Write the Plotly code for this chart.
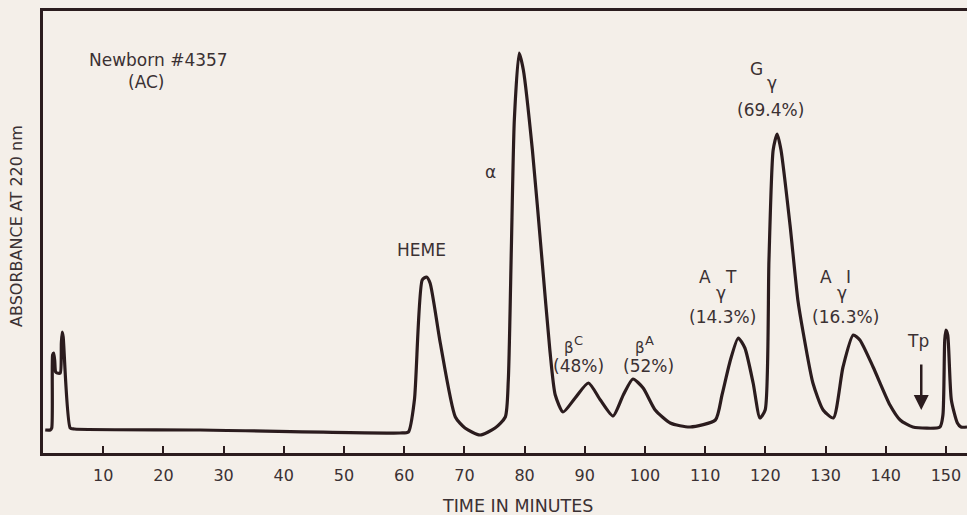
import plotly.graph_objects as go

# Time (minutes) and relative absorbance (arbitrary units)
time_min = [0.37, 1.20, 1.45, 1.60, 1.78, 1.95, 2.10, 2.36, 2.86, 3.05, 3.19, 3.35, 4.52, 5.2,
            26.1, 59.3, 60.7, 61.7, 63.0, 63.7, 64.3, 66.0, 68.5, 70.1, 72.6, 75.1, 76.8,
            77.3, 77.8, 78.3, 79.1, 79.8, 81.3, 82.9, 84.2, 85.1, 86.4, 88.4, 90.6, 92.6,
            94.7, 96.4, 98.0, 99.7, 101.7, 104.2, 107.5, 111.7, 112.8, 114.2, 115.5, 116.6,
            117.97, 119.1, 119.97, 120.6, 121.3, 121.96, 122.6, 124.1, 125.4, 126.3, 127.9,
            129.6, 131.3, 132.9, 134.6, 135.7, 137.9, 140.7, 142.4, 144.5, 149.0, 149.5,
            149.8, 150.0, 150.3, 150.9, 151.9, 152.5, 153.5]
absorbance = [23, 23, 25, 98, 100, 92, 81, 80, 80, 110, 121, 116, 25, 24,
              23, 20, 21, 53, 173, 176, 170, 110, 36, 25, 18, 25, 36,
              73, 203, 333, 400, 383, 303, 193, 103, 58, 41, 55, 70, 53,
              37, 58, 74, 65, 43, 30, 26, 33, 58, 93, 115, 105,
              70, 35, 43, 193, 303, 319, 303, 228, 153, 120, 70,
              43, 35, 86, 118, 113, 86, 48, 33, 26, 26, 38,
              113, 123, 118, 53, 30, 26, 26]

x_ticks = [10, 20, 30, 40, 50, 60, 70, 80, 90, 100, 110, 120, 130, 140, 150]

ink = "#2b1c1e"
txt = "#3b3133"
font_family = "DejaVu Sans"

fig = go.Figure()
fig.add_trace(go.Scatter(
    x=time_min, y=absorbance, mode="lines",
    line=dict(color=ink, width=3.2, shape="spline", smoothing=0.6),
    hoverinfo="skip", showlegend=False,
))

labels = [
    # (text, x, y, xanchor, size)
    ("Newborn #4357", 7.35, 393, "left", 17),
    ("(AC)", 13.8, 371, "left", 17),
    ("α", 74.3, 281, "center", 17),
    ("HEME", 62.8, 203, "center", 17),
    ("β", 87.4, 105, "center", 15),
    ("C", 89.0, 113, "center", 13),
    ("(48%)", 88.9, 87, "center", 17),
    ("β", 99.2, 105, "center", 15),
    ("A", 100.8, 113, "center", 13),
    ("(52%)", 100.6, 87, "center", 17),
    ("A", 110.0, 176, "center", 17),
    ("γ", 112.7, 160, "center", 17),
    ("T", 114.3, 176, "center", 17),
    ("(14.3%)", 112.8, 136, "center", 17),
    ("G", 118.6, 384, "center", 17),
    ("γ", 121.1, 370, "center", 17),
    ("(69.4%)", 120.8, 343, "center", 17),
    ("A", 130.1, 176, "center", 17),
    ("γ", 132.8, 160, "center", 17),
    ("I", 133.75, 176, "center", 17),
    ("(16.3%)", 133.25, 136, "center", 17),
    ("Tp", 145.4, 112, "center", 17),
]
for text, x, y, xa, size in labels:
    fig.add_annotation(x=x, y=y, text=text, showarrow=False, xanchor=xa, yanchor="middle",
                       font=dict(family=font_family, size=size, color=txt))

# Tp arrow
fig.add_annotation(x=145.9, y=43, ax=145.9, ay=90, axref="x", ayref="y", text="",
                   showarrow=True, arrowhead=2, arrowsize=1.2, arrowwidth=2.5, arrowcolor=ink)

# axis titles
fig.add_annotation(xref="paper", yref="paper", x=-0.028, y=0.514, text="ABSORBANCE AT 220 nm",
                   textangle=-90, showarrow=False, xanchor="center", yanchor="middle",
                   font=dict(family=font_family, size=16, color=txt))
fig.add_annotation(xref="paper", yref="paper", x=0.513, y=-0.12, text="TIME IN MINUTES",
                   showarrow=False, xanchor="center", yanchor="middle",
                   font=dict(family=font_family, size=17.5, color=txt))

fig.update_layout(
    width=967, height=515,
    margin=dict(l=43, r=0, t=11, b=62),
    paper_bgcolor="#f4efe9", plot_bgcolor="#f4efe9",
    xaxis=dict(range=[0, 153.5], tickmode="array", tickvals=x_ticks,
               ticks="inside", ticklen=7, tickwidth=2, tickcolor=ink,
               showline=True, linewidth=3, linecolor=ink, mirror=True,
               showgrid=False, zeroline=False, ticklabelstandoff=6,
               tickfont=dict(family=font_family, size=16, color=txt)),
    yaxis=dict(range=[0, 442], showline=True, linewidth=3, linecolor=ink,
               showticklabels=False, ticks="", showgrid=False, zeroline=False),
)

fig.write_html("out.html")
